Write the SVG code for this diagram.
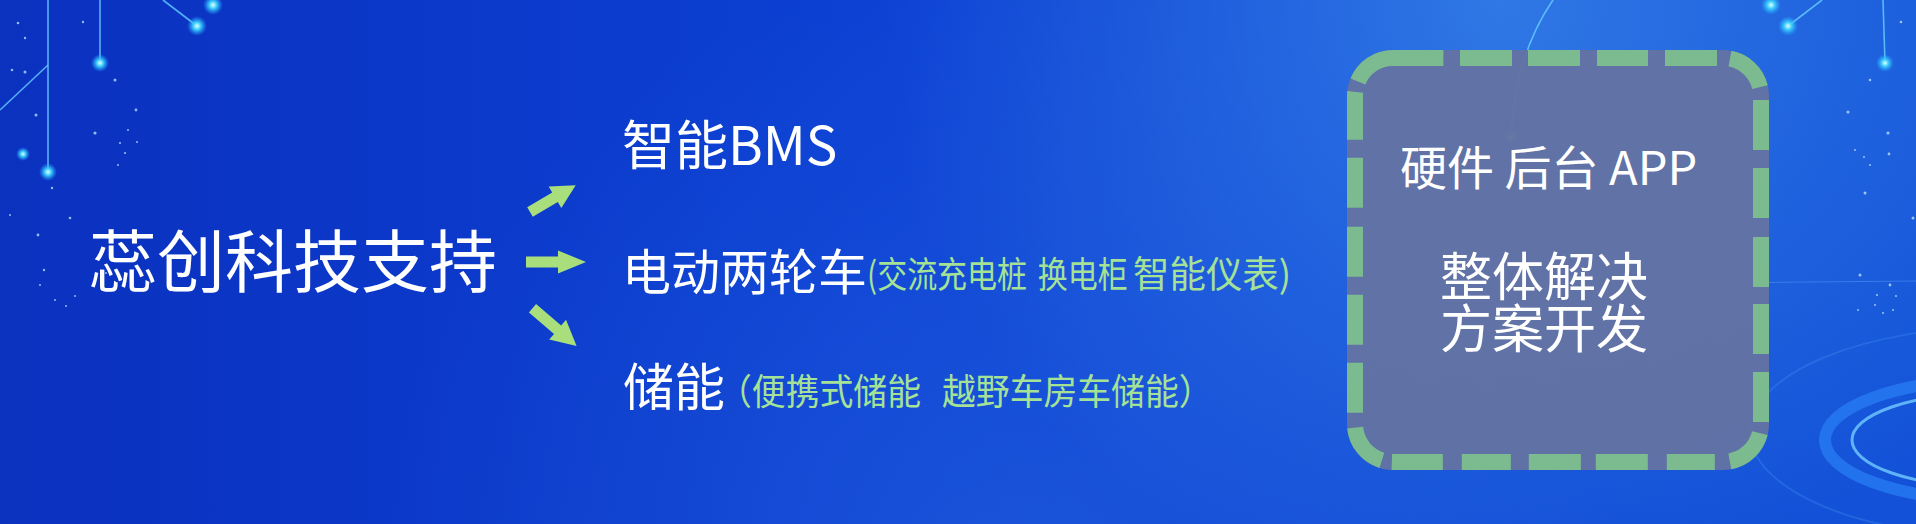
<svg xmlns="http://www.w3.org/2000/svg" width="1916" height="524" viewBox="0 0 1916 524">
<defs>
  <linearGradient id="bgGrad" x1="0" y1="0" x2="1" y2="0">
    <stop offset="0" stop-color="#0b31bf"/>
    <stop offset="0.45" stop-color="#0c40d3"/>
    <stop offset="1" stop-color="#1352d8"/>
  </linearGradient>
  <radialGradient id="hlTR" cx="1500" cy="0" r="620" gradientUnits="userSpaceOnUse">
    <stop offset="0" stop-color="#4a9cf2" stop-opacity="0.55"/>
    <stop offset="1" stop-color="#4a9cf2" stop-opacity="0"/>
  </radialGradient>
  <radialGradient id="hlB" cx="1000" cy="580" r="620" gradientUnits="userSpaceOnUse">
    <stop offset="0" stop-color="#3a7fe8" stop-opacity="0.3"/>
    <stop offset="1" stop-color="#3a7fe8" stop-opacity="0"/>
  </radialGradient>
  <radialGradient id="glow">
    <stop offset="0" stop-color="#e6fdff"/>
    <stop offset="0.35" stop-color="#43d3ff"/>
    <stop offset="1" stop-color="#1aa8ff" stop-opacity="0"/>
  </radialGradient>
  <radialGradient id="glowG">
    <stop offset="0" stop-color="#c8ffe6"/>
    <stop offset="0.4" stop-color="#5fe0b0" stop-opacity="0.8"/>
    <stop offset="1" stop-color="#5fe0b0" stop-opacity="0"/>
  </radialGradient>
</defs>
<style>
  .t{font-family:"Noto Sans CJK SC","Noto Sans",sans-serif;fill:#ffffff}
  .g{font-family:"Noto Sans CJK SC","Noto Sans",sans-serif;fill:#a5e296}
  .arrow{fill:#a9de7c}
  .ln{stroke:#62c9ff;stroke-width:1.6;fill:none;opacity:0.85}
  .dot{fill:url(#glow)}
  .sp{fill:#c4e8ff;opacity:0.75}
  .ring{fill:none}
</style>

<g id="background">
  <rect x="0" y="0" width="1916" height="524" fill="url(#bgGrad)"/>
  <rect x="0" y="0" width="1916" height="524" fill="url(#hlTR)"/>
  <rect x="0" y="0" width="1916" height="524" fill="url(#hlB)"/>
  <line class="ln" x1="48" y1="0" x2="48" y2="172"/>
  <line class="ln" x1="100" y1="0" x2="100" y2="63"/>
  <line class="ln" x1="0" y1="110" x2="48" y2="65"/>
  <line class="ln" x1="163" y1="0" x2="197" y2="26"/>
  <circle class="dot" cx="48" cy="172" r="9"/>
  <circle class="dot" cx="100" cy="63" r="9"/>
  <circle class="dot" cx="197" cy="26" r="10"/>
  <circle class="dot" cx="213" cy="5" r="10"/>
  <circle class="dot" cx="23" cy="154" r="7"/>
  <g class="sp">
    <circle cx="18" cy="23" r="1.3"/><circle cx="25" cy="38" r="1.2"/><circle cx="12" cy="70" r="1.3"/>
    <circle cx="25" cy="72" r="1.5"/><circle cx="83" cy="22" r="1.2"/><circle cx="115" cy="80" r="1.5"/>
    <circle cx="136" cy="110" r="1.4"/><circle cx="95" cy="133" r="1.6"/><circle cx="36" cy="115" r="1.5"/>
    <circle cx="120" cy="143" r="1.1"/><circle cx="125" cy="153" r="1.1"/><circle cx="118" cy="165" r="1"/>
    <circle cx="52" cy="188" r="1.2"/><circle cx="70" cy="218" r="1.3"/><circle cx="38" cy="235" r="1.4"/>
    <circle cx="44" cy="270" r="1.2"/><circle cx="55" cy="300" r="1"/><circle cx="40" cy="285" r="1"/>
    <circle cx="66" cy="306" r="1"/><circle cx="75" cy="296" r="1"/><circle cx="106" cy="273" r="1"/>
    <circle cx="137" cy="142" r="1"/><circle cx="128" cy="130" r="1"/><circle cx="10" cy="215" r="1"/>
  </g>
  <line class="ln" x1="1788" y1="26" x2="1822" y2="0"/>
  <line class="ln" x1="1883" y1="0" x2="1885" y2="63"/>
  <circle class="dot" cx="1771" cy="5" r="10"/>
  <circle class="dot" cx="1788" cy="26" r="10"/>
  <circle class="dot" cx="1885" cy="63" r="9"/>
  <g class="sp">
    <circle cx="1901" cy="22" r="1.3"/><circle cx="1870" cy="80" r="1.3"/><circle cx="1848" cy="112" r="1.5"/>
    <circle cx="1888" cy="133" r="1.6"/><circle cx="1889" cy="154" r="1.4"/><circle cx="1865" cy="193" r="1.5"/>
    <circle cx="1913" cy="218" r="1.5"/><circle cx="1860" cy="275" r="1.5"/><circle cx="1890" cy="285" r="1.4"/>
    <circle cx="1877" cy="295" r="1.1"/><circle cx="1875" cy="305" r="1"/><circle cx="1893" cy="310" r="1"/>
    <circle cx="1858" cy="310" r="1"/><circle cx="1883" cy="313" r="1"/><circle cx="1855" cy="150" r="1"/>
    <circle cx="1864" cy="157" r="1"/><circle cx="1870" cy="165" r="1"/><circle cx="1896" cy="296" r="1"/>
  </g>
  <path class="ln" d="M1553,0 Q1515,55 1511,137" opacity="0.6"/>
  <circle cx="1511" cy="137" r="8" fill="url(#glowG)"/>
  <line x1="1700" y1="283" x2="1916" y2="281" stroke="#6fb6ff" stroke-width="1" opacity="0.35"/>
  <ellipse class="ring" cx="2000" cy="432" rx="250" ry="105" stroke="#3d8cf0" stroke-width="2" opacity="0.35"/>
  <ellipse class="ring" cx="1990" cy="440" rx="165" ry="60" stroke="#2f8cff" stroke-width="12" opacity="0.55"/>
  <ellipse class="ring" cx="1990" cy="440" rx="138" ry="47" stroke="#6cc4ff" stroke-width="3" opacity="0.85"/>
</g>

<g id="connectors">
  <path class="arrow" d="M0,-5.5 H29 V-12.5 L53,0 L29,12.5 V5.5 H0 Z" transform="translate(530,212) rotate(-30.4)"/>
  <path class="arrow" d="M0,-5.5 H32 V-11.5 L60,0 L32,11.5 V5.5 H0 Z" transform="translate(526,262)"/>
  <path class="arrow" d="M0,-5.5 H33 V-13 L58,0 L33,13 V5.5 H0 Z" transform="translate(532.5,308.3) rotate(40.5)"/>
</g>

<g id="node-source">
  <text class="t" x="89" y="287" font-size="68">蕊创科技支持</text>
</g>

<g id="node-bms">
  <text class="t" x="622" y="165" font-size="53">智能BMS</text>
</g>

<g id="node-ev">
  <text class="t" x="622" y="290" font-size="49">电动两轮车</text>
  <text class="g" font-size="36" transform="translate(867,288) scale(0.8333,1)"><tspan x="0" y="0">(交流充电桩 </tspan><tspan x="205" y="0">换电柜</tspan></text>
  <text class="g" font-size="37" transform="translate(1133,288) scale(0.985,1)">智能仪表)</text>
</g>

<g id="node-storage">
  <text class="t" x="623" y="406" font-size="51">储能</text>
  <text class="g" font-size="36" transform="translate(718,405) scale(0.94,1)"><tspan x="0" y="0">（便携式储能 </tspan><tspan x="238.3" y="0">越野车房车储能）</tspan></text>
</g>

<g id="node-solution">
  <rect x="1347" y="50" width="422" height="420" rx="46" ry="46" fill="#6373a3" fill-opacity="0.96"/>
  <path d="M1451,58 H1723 A38,38 0 0 1 1761,96 V424 A38,38 0 0 1 1723,462 H1393 A38,38 0 0 1 1355,424 V96 A38,38 0 0 1 1393,58 Z" fill="none" stroke="#7cbb8f" stroke-width="16" stroke-linecap="butt" stroke-dasharray="0 9 52 16 52 17 51 17 52 13.03 43.57 13.09 50 18 50 19 50 17 50 18 50 11.09 43.57 15.03 48 19 52 15 52 18 49 19 51 10.14 44.57 14.98 50 18 50 18 50 19 50 18 48 10.59 95.1 8"/>
  <text class="t" x="1400" y="185" font-size="47">硬件 后台 APP</text>
  <text class="t" font-size="52"><tspan x="1440" y="296">整体解决</tspan><tspan x="1440" y="348">方案开发</tspan></text>
</g>
</svg>
